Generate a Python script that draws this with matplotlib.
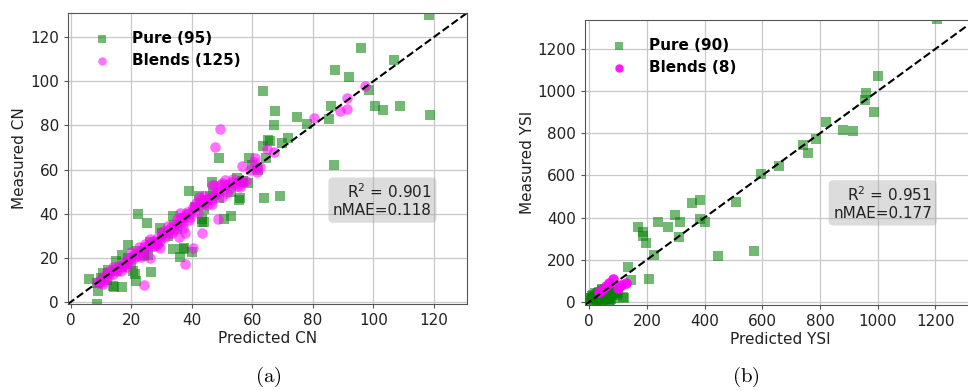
import matplotlib
matplotlib.use("Agg")
import matplotlib.pyplot as plt
import numpy as np

plt.rcParams['mathtext.fontset'] = 'dejavusans'

# ---- CN data (predicted, measured) ----
cn_pure_pred = [118.3, 96.1, 106.8, 87.5, 91.9, 98.5, 63.5, 86.1, 100.5, 103.3, 109.0, 67.6, 74.8, 67.2,
                78.1, 85.3, 118.8, 71.7, 65.3, 65.9, 69.8, 63.5, 58.8, 49.0, 64.5, 86.9, 58.7, 46.8,
                38.9, 56.0, 55.7, 64.0, 69.0, 50.5, 53.0, 22.2, 25.2, 33.7, 29.5, 43.5, 43.3, 42.5,
                33.9, 37.2, 37.5, 36.1, 40.1, 18.8, 17.0, 25.6, 24.0, 20.4, 21.2, 21.4, 26.5, 14.9,
                16.8, 14.3, 14.0, 6.1, 8.7, 8.5, 8.8, 12.4, 10.7, 44.1,
                10, 12, 15, 17, 19, 20, 22, 24, 26, 28, 30, 32, 34, 35, 37, 39, 41, 43, 44, 46,
                47, 49, 51, 53, 55, 57, 60, 62, 45]
cn_pure_meas = [130.3, 115.3, 109.7, 105.2, 101.8, 96.1, 95.8, 89.0, 88.9, 87.2, 88.9, 86.7, 83.7, 80.4,
                80.7, 83.1, 84.8, 74.2, 73.2, 73.0, 72.0, 70.6, 65.2, 65.1, 65.0, 61.9, 53.9, 54.4,
                50.2, 47.2, 46.1, 47.2, 47.9, 37.4, 38.9, 40.0, 35.6, 39.1, 33.4, 37.4, 36.1, 48.1,
                23.9, 23.9, 24.4, 20.1, 22.4, 25.8, 21.0, 21.3, 20.6, 13.8, 12.6, 9.3, 13.4, 18.3,
                6.8, 6.8, 7.0, 10.4, 8.3, -0.9, 5.1, 14.6, 13.1, 36.1,
                11, 10, 14, 16, 20, 17, 23, 22, 27, 26, 31, 30, 35, 33, 38, 40, 43, 45, 42, 48,
                50, 47, 53, 50, 56, 55, 62, 60, 46]

cn_blend_pred = [97.4, 91.4, 91.2, 88.9, 80.5, 49.4, 47.5, 64.9, 67.1, 56.6, 61.0, 61.6, 61.5, 60.4,
                 62.6, 59.3, 51.0, 53.3, 54.9, 56.0, 52.7, 49.4, 47.2, 48.3, 49.9, 46.6, 43.9, 42.2,
                 40.5, 38.3, 39.4, 36.7, 48.8, 43.3, 40.5, 37.8, 24.0, 28.4, 29.5, 35.6, 37.2, 37.8,
                 36.1, 37.2, 40.5, 42.8, 46.6, 48.3, 55.5, 57.0, 50.0, 52.0, 58.0, 45.0, 44.0,
                 8.5, 9.2, 10.0, 10.8, 11.5, 12.3, 13.0, 13.8, 14.5, 15.2, 16.0, 16.8, 17.5, 18.2,
                 19.0, 19.7, 20.5, 21.2, 22.0, 22.7, 23.5, 24.2, 25.0, 25.7, 26.5, 27.2, 28.0, 28.7,
                 29.5, 30.2, 31.0, 31.7, 32.5, 33.2, 34.0, 34.7, 35.5, 36.2, 37.0, 18.5, 20.0, 23.0,
                 26.0, 29.0, 32.0, 30.5, 24.5, 14.0, 12.0, 16.5, 22.5, 27.5, 33.5, 35.0, 38.0, 41.0,
                 42.0, 43.5, 45.5, 46.5, 47.5, 44.5, 39.0, 41.5, 50.5, 53.5, 55.0, 51.5, 10.5, 26.0]
cn_blend_meas = [97.9, 92.5, 87.5, 86.7, 83.4, 78.5, 70.2, 69.5, 67.8, 61.6, 65.0, 60.6, 58.9, 63.4,
                 61.2, 59.7, 55.2, 54.4, 53.7, 52.1, 51.4, 52.9, 52.9, 49.9, 47.6, 46.1, 44.7, 47.6,
                 43.1, 40.9, 38.6, 37.9, 37.4, 31.1, 24.4, 17.3, 7.8, 25.8, 24.4, 29.6, 33.4, 31.1,
                 40.1, 38.6, 41.6, 46.1, 52.9, 49.2, 55.0, 54.2, 54.0, 53.5, 55.0, 44.0, 48.0,
                 9.0, 8.3, 10.5, 9.6, 12.0, 11.2, 13.6, 12.5, 14.9, 13.9, 16.5, 15.7, 17.0, 18.8,
                 17.9, 20.2, 19.3, 21.8, 20.9, 23.0, 22.4, 24.9, 23.8, 26.3, 25.2, 27.8, 26.9, 29.3,
                 28.2, 30.8, 29.6, 32.4, 31.3, 34.0, 32.6, 35.2, 34.3, 36.9, 35.8, 16.0, 22.5, 20.5,
                 28.5, 27.0, 34.5, 32.0, 26.0, 16.0, 13.5, 14.0, 25.0, 25.5, 31.0, 37.5, 39.5, 43.5,
                 40.5, 44.5, 47.0, 44.5, 48.5, 46.0, 37.0, 45.0, 51.0, 55.5, 52.5, 49.5, 8.0, 20.0]

# ---- YSI data (predicted, measured) ----
ysi_pure_pred = [1206, 1003, 959, 957, 988, 821, 879, 916, 785, 740, 759, 657, 597, 357, 385, 508,
                 296, 313, 238, 170, 272, 186, 188, 197, 311, 383, 403, 446, 570, 223, 136, 143,
                 206, 121, 117, -9, -6,
                 5, 10, 12, 15, 18, 20, 22, 25, 28, 30, 32, 35, 38, 40, 42, 45, 48, 50, 52, 55,
                 58, 60, 62, 65, 68, 70, 72, 75, 78, 80, 85, 88, 20, 30, 45, 55, 35, 65, 25, 40,
                 50, 60, 70, 15, 90, 28, 8, 95, 100, 73, 58, 43, 33]
ysi_pure_meas = [1341, 1070, 992, 959, 903, 852, 816, 810, 773, 746, 705, 643, 606, 471, 482, 474,
                 411, 379, 381, 357, 355, 333, 312, 281, 308, 395, 379, 219, 243, 222, 163, 103,
                 109, 19, 22, 19, 19,
                 5, 15, 30, 8, 22, 40, 12, 28, 5, 18, 35, 10, 25, 45, 15, 30, 8, 20, 38, 12,
                 28, 50, 18, 35, 10, 25, 45, 15, 30, 55, 20, 40, 25, 42, 55, 60, 48, 22, 15, 8,
                 30, 40, 55, 20, 45, 35, 28, 30, 42, 8, 15, 60, 20]

ysi_blend_pred = [35, 46, 58, 81, 99, 110, 128, 70]
ysi_blend_meas = [45, 60, 74, 106, 67, 82, 90, 88]

fig = plt.figure(figsize=(9.68, 3.91), dpi=100)
ax1 = fig.add_axes([0.0702, 0.2225, 0.4122, 0.7443])
ax2 = fig.add_axes([0.6043, 0.2200, 0.4030, 0.7290])


def panel(ax, xp, yp, xb, yb, lims, ticks, name, lab_p, lab_b, stats, tx, ty, balpha):
    ax.set_axisbelow(True)
    ax.grid(True, color='#c8c8c8', linewidth=0.9)
    ax.scatter(xp, yp, marker='s', s=44, color='green', alpha=0.55, linewidths=0, label=lab_p)
    ax.scatter(xb, yb, marker='o', s=58, color='magenta', alpha=balpha, linewidths=0, label=lab_b)
    ax.plot(lims, lims, 'k--', linewidth=1.5)
    ax.set_xlim(lims)
    ax.set_ylim(lims)
    ax.set_xticks(ticks)
    ax.set_yticks(ticks)
    ax.tick_params(labelsize=11, length=3, color='#555555', labelcolor='#222222')
    for sp in ax.spines.values():
        sp.set_color('#555555')
    ax.set_xlabel('Predicted ' + name, fontsize=11, color='#222222', labelpad=2)
    ax.set_ylabel('Measured ' + name, fontsize=11, color='#222222', labelpad=2)
    ax.legend(loc='upper left', frameon=False, prop={'weight': 'bold', 'size': 11},
              markerscale=0.8, handletextpad=1.0, borderaxespad=0.6, borderpad=0.6,
              labelspacing=0.45)
    ax.text(tx, ty, stats, transform=ax.transAxes, ha='right', va='center', fontsize=11,
            color='#222222', multialignment='right',
            bbox=dict(boxstyle='round,pad=0.3', facecolor='#a8a8a8', alpha=0.4, edgecolor='none'))


panel(ax1, cn_pure_pred, cn_pure_meas, cn_blend_pred, cn_blend_meas, [-1, 131],
      [0, 20, 40, 60, 80, 100, 120], 'CN', 'Pure (95)', 'Blends (125)',
      'R$^2$ = 0.901\nnMAE=0.118', 0.912, 0.357, 0.55)
panel(ax2, ysi_pure_pred, ysi_pure_meas, ysi_blend_pred, ysi_blend_meas, [-15, 1338],
      [0, 200, 400, 600, 800, 1000, 1200], 'YSI', 'Pure (90)', 'Blends (8)',
      'R$^2$ = 0.951\nnMAE=0.177', 0.89, 0.358, 0.9)

fig.text(0.277, 0.035, r'$\mathrm{(a)}$', ha='center', va='center', fontsize=15, math_fontfamily='cm')
fig.text(0.770, 0.035, r'$\mathrm{(b)}$', ha='center', va='center', fontsize=15, math_fontfamily='cm')

fig.savefig('out.png', dpi=100)
